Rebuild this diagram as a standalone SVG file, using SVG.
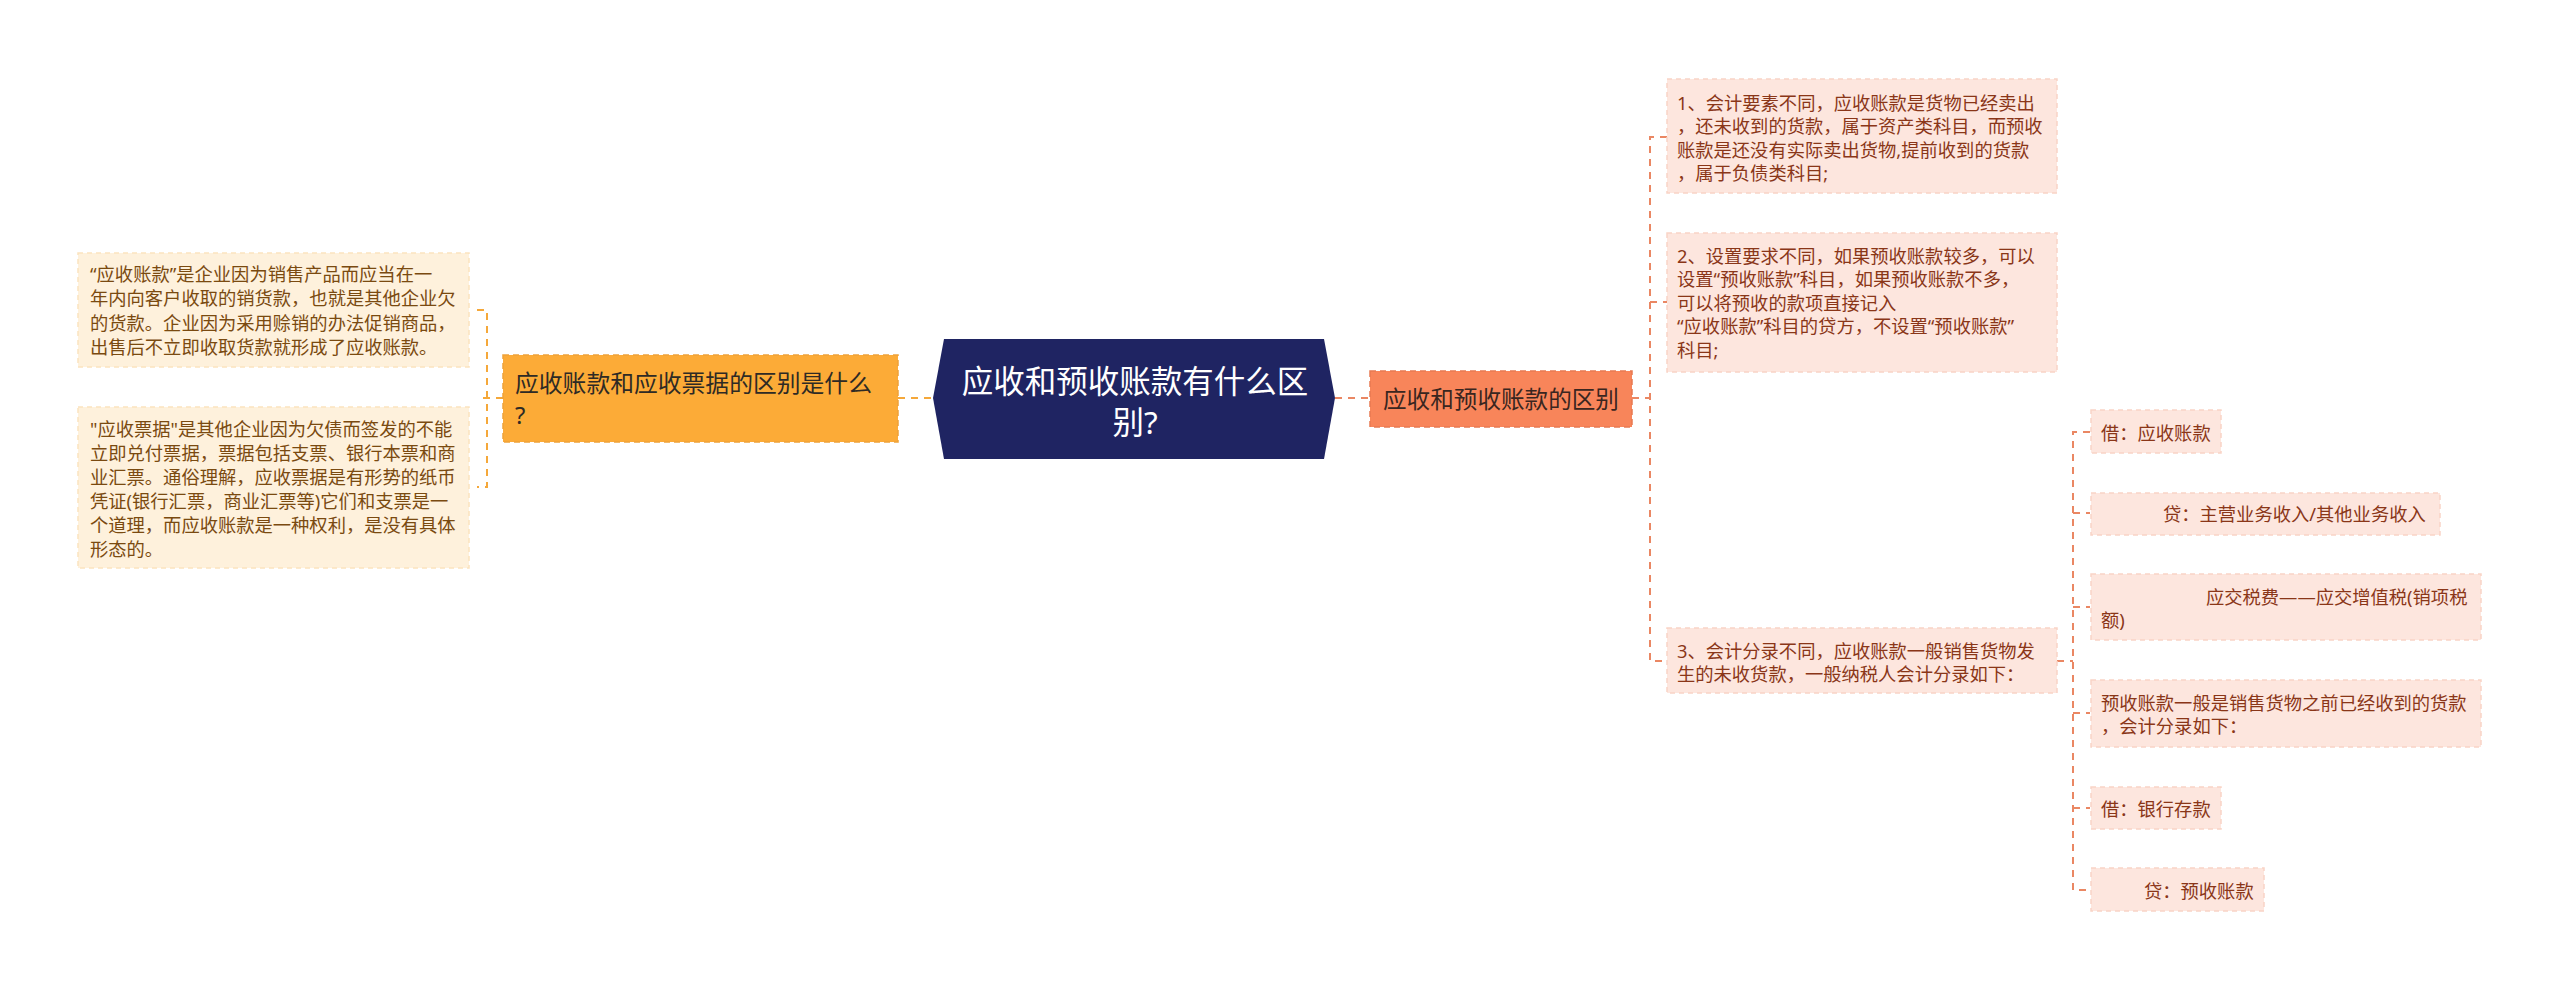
<svg xmlns="http://www.w3.org/2000/svg" width="2560" height="991" viewBox="0 0 2560 991">
<style>
text{font-family:"Noto Sans","Noto Sans CJK SC",sans-serif;dominant-baseline:central}
.lbox{fill:#fef1dc;stroke:#fbe3bf;stroke-width:1.5;stroke-dasharray:5 4}
.ltxt{font-size:18.3px;fill:#7a4a10}
.rbox{fill:#fde6de;stroke:#f9d4c6;stroke-width:1.5;stroke-dasharray:5 4}
.rtxt{font-size:18.3px;fill:#8a3618}
.lc{fill:none;stroke:#f5a83a;stroke-width:2;stroke-dasharray:7 6}
.rc{fill:none;stroke:#ea8763;stroke-width:2;stroke-dasharray:7 6}
</style>
<rect width="2560" height="991" fill="#ffffff"/>
<g id="connectors">
<path class="lc" d="M898,398 H933"/>
<path class="lc" d="M503,398 H483"/>
<path class="lc" d="M477,310 H487 V487 H477"/>
<path class="rc" d="M1335,398 H1370"/>
<path class="rc" d="M1632,398 H1650"/>
<path class="rc" d="M1667,137 H1650 V661 H1667"/>
<path class="rc" d="M1650,302 H1667"/>
<path class="rc" d="M2057,661 H2073"/>
<path class="rc" d="M2090,432 H2073 V890 H2090"/>
<path class="rc" d="M2073,513 H2090 M2073,607 H2090 M2073,713 H2090 M2073,808 H2090"/>
</g>
<g id="center">
<polygon points="933,398 944,339 1324,339 1335,398 1324,459 944,459" fill="#1f2462"/>
<text x="1135" y="380" font-size="31.5" fill="#ffffff" text-anchor="middle">应收和预收账款有什么区</text>
<text x="1135" y="421" font-size="31.5" fill="#ffffff" text-anchor="middle">别?</text>
</g>
<g id="left-main">
<rect x="503" y="355" width="395" height="87" fill="#fcab37" stroke="#eea23a" stroke-width="1.5" stroke-dasharray="6 4"/>
<text x="515" y="383" font-size="23.8" fill="#2e2a25">应收账款和应收票据的区别是什么</text>
<text x="515" y="415" font-size="23.8" fill="#2e2a25">?</text>
</g>
<g id="left-1">
<rect class="lbox" x="78" y="253" width="391" height="114"/>
<text class="ltxt" x="90" y="273">“应收账款”是企业因为销售产品而应当在一</text>
<text class="ltxt" x="90" y="297.5">年内向客户收取的销货款，也就是其他企业欠</text>
<text class="ltxt" x="90" y="322">的货款。企业因为采用赊销的办法促销商品，</text>
<text class="ltxt" x="90" y="346.5">出售后不立即收取货款就形成了应收账款。</text>
</g>
<g id="left-2">
<rect class="lbox" x="78" y="407" width="391" height="161"/>
<text class="ltxt" x="90" y="428">"应收票据"是其他企业因为欠债而签发的不能</text>
<text class="ltxt" x="90" y="452">立即兑付票据，票据包括支票、银行本票和商</text>
<text class="ltxt" x="90" y="476">业汇票。通俗理解，应收票据是有形势的纸币</text>
<text class="ltxt" x="90" y="500">凭证(银行汇票，商业汇票等)它们和支票是一</text>
<text class="ltxt" x="90" y="524">个道理，而应收账款是一种权利，是没有具体</text>
<text class="ltxt" x="90" y="548">形态的。</text>
</g>
<g id="right-main">
<rect x="1370" y="371" width="262" height="56" fill="#f8855a" stroke="#e77a52" stroke-width="1.5" stroke-dasharray="6 4"/>
<text x="1501" y="399" font-size="23.6" fill="#3a2620" text-anchor="middle">应收和预收账款的区别</text>
</g>
<g id="right-1">
<rect class="rbox" x="1667" y="79" width="390" height="114"/>
<text class="rtxt" x="1677" y="102">1、会计要素不同，应收账款是货物已经卖出</text>
<text class="rtxt" x="1677" y="125.5">，还未收到的货款，属于资产类科目，而预收</text>
<text class="rtxt" x="1677" y="149">账款是还没有实际卖出货物,提前收到的货款</text>
<text class="rtxt" x="1677" y="172.5">，属于负债类科目;</text>
</g>
<g id="right-2">
<rect class="rbox" x="1667" y="233" width="390" height="139"/>
<text class="rtxt" x="1677" y="255">2、设置要求不同，如果预收账款较多，可以</text>
<text class="rtxt" x="1677" y="278.5">设置“预收账款”科目，如果预收账款不多，</text>
<text class="rtxt" x="1677" y="302">可以将预收的款项直接记入</text>
<text class="rtxt" x="1677" y="325.5">“应收账款”科目的贷方，不设置“预收账款”</text>
<text class="rtxt" x="1677" y="349">科目;</text>
</g>
<g id="right-3">
<rect class="rbox" x="1667" y="628" width="390" height="65"/>
<text class="rtxt" x="1677" y="650">3、会计分录不同，应收账款一般销售货物发</text>
<text class="rtxt" x="1677" y="673.5">生的未收货款，一般纳税人会计分录如下：</text>
</g>
<g id="sub-1">
<rect class="rbox" x="2091" y="410" width="130" height="43"/>
<text class="rtxt" x="2101" y="432">借：应收账款</text>
</g>
<g id="sub-2">
<rect class="rbox" x="2091" y="493" width="349" height="42"/>
<text class="rtxt" x="2163" y="513">贷：主营业务收入/其他业务收入</text>
</g>
<g id="sub-3">
<rect class="rbox" x="2091" y="574" width="390" height="66"/>
<text class="rtxt" x="2206" y="596">应交税费——应交增值税(销项税</text>
<text class="rtxt" x="2101" y="619">额)</text>
</g>
<g id="sub-4">
<rect class="rbox" x="2091" y="680" width="390" height="67"/>
<text class="rtxt" x="2101" y="702">预收账款一般是销售货物之前已经收到的货款</text>
<text class="rtxt" x="2101" y="725">，会计分录如下：</text>
</g>
<g id="sub-5">
<rect class="rbox" x="2091" y="787" width="130" height="42"/>
<text class="rtxt" x="2101" y="808">借：银行存款</text>
</g>
<g id="sub-6">
<rect class="rbox" x="2091" y="868" width="173" height="43"/>
<text class="rtxt" x="2144" y="890">贷：预收账款</text>
</g>
</svg>
